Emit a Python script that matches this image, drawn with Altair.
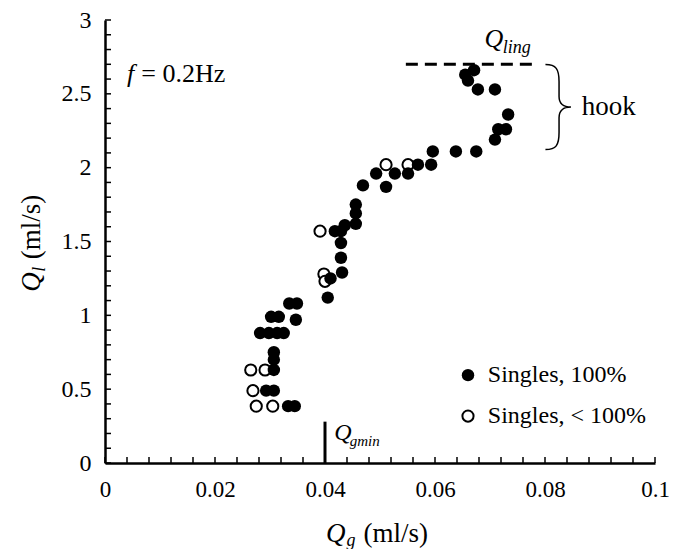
import altair as alt
import pandas as pd

SERIF = "Liberation Serif, Times New Roman, serif"

# ---- data ----
filled_qg = [0.0333, 0.0345, 0.0293, 0.0307, 0.0307, 0.0307, 0.0307, 0.0282, 0.0298, 0.0313,
             0.0325, 0.0302, 0.0316, 0.0347, 0.0335, 0.0349, 0.0405, 0.0410, 0.0431, 0.0429,
             0.0429, 0.0418, 0.0429, 0.0436, 0.0456, 0.0456, 0.0456, 0.0469, 0.0493, 0.0511,
             0.0527, 0.0551, 0.0569, 0.0593, 0.0596, 0.0638, 0.0675, 0.0709, 0.0715, 0.0729,
             0.0733, 0.0660, 0.0671, 0.0678, 0.0709, 0.0655]
filled_ql = [0.385, 0.385, 0.49, 0.49, 0.63, 0.70, 0.75, 0.88, 0.88, 0.88,
             0.88, 0.99, 0.99, 0.97, 1.08, 1.08, 1.12, 1.25, 1.29, 1.39,
             1.49, 1.57, 1.57, 1.61, 1.62, 1.69, 1.75, 1.88, 1.96, 1.87,
             1.96, 1.96, 2.02, 2.02, 2.11, 2.11, 2.11, 2.19, 2.26, 2.26,
             2.36, 2.59, 2.66, 2.53, 2.53, 2.63]
open_qg = [0.0275, 0.0305, 0.0269, 0.0265, 0.0291, 0.0398, 0.0400, 0.0391, 0.0511, 0.0551]
open_ql = [0.385, 0.385, 0.49, 0.63, 0.63, 1.28, 1.23, 1.57, 2.02, 2.02]

x_tick_labels = [0, 0.02, 0.04, 0.06, 0.08, 0.1]
y_tick_labels = [0, 0.5, 1, 1.5, 2, 2.5, 3]
x_minor = [0, 0.004, 0.008, 0.012, 0.016, 0.02, 0.024, 0.028, 0.032, 0.036, 0.04,
           0.044, 0.048, 0.052, 0.056, 0.06, 0.064, 0.068, 0.072, 0.076, 0.08,
           0.084, 0.088, 0.092, 0.096, 0.1]
y_minor = [0, 0.1, 0.2, 0.3, 0.4, 0.5, 0.6, 0.7, 0.8, 0.9, 1.0, 1.1, 1.2, 1.3, 1.4,
           1.5, 1.6, 1.7, 1.8, 1.9, 2.0, 2.1, 2.2, 2.3, 2.4, 2.5, 2.6, 2.7, 2.8, 2.9, 3.0]

q_ling = 2.70
q_gmin = 0.04

W, H = 550, 443

xs = alt.Scale(domain=[0, 0.1], nice=False, zero=False)
ys = alt.Scale(domain=[0, 3], nice=False, zero=False)

df_f = pd.DataFrame({"qg": filled_qg, "ql": filled_ql})
df_o = pd.DataFrame({"qg": open_qg, "ql": open_ql})

x_axis = alt.Axis(values=x_tick_labels, labelExpr="format(datum.value, '~g')", ticks=False,
                  grid=False, domainWidth=2.5, domainColor="black", labelFont=SERIF,
                  labelFontSize=23, labelColor="black", labelPadding=15, labelFlush=False,
                  title=None)
y_axis = alt.Axis(values=y_tick_labels, labelExpr="format(datum.value, '~g')", ticks=False,
                  grid=False, domainWidth=2.5, domainColor="black", labelFont=SERIF,
                  labelFontSize=24, labelColor="black", labelPadding=14, labelFlush=False,
                  title=None)

open_layer = alt.Chart(df_o).mark_point(shape="circle", filled=True, fill="white", stroke="black",
                                        strokeWidth=2, size=125, opacity=1).encode(
    x=alt.X("qg:Q", scale=xs, axis=x_axis),
    y=alt.Y("ql:Q", scale=ys, axis=y_axis),
)
filled_layer = alt.Chart(df_f).mark_circle(size=155, color="black", opacity=1).encode(
    x=alt.X("qg:Q", title=None), y=alt.Y("ql:Q", title=None))

xt = alt.Chart(pd.DataFrame({"v": x_minor})).mark_rule(color="black", strokeWidth=1.5).encode(
    x=alt.X("v:Q", title=None), y=alt.value(H), y2=alt.value(H - 6))
yt = alt.Chart(pd.DataFrame({"v": y_minor})).mark_rule(color="black", strokeWidth=1.5).encode(
    y=alt.Y("v:Q", title=None), x=alt.value(0), x2=alt.value(6))

gmin_line = alt.Chart(pd.DataFrame({"x": [q_gmin], "y": [0], "y2": [0.28]})).mark_rule(
    color="black", strokeWidth=3).encode(x=alt.X("x:Q", title=None), y=alt.Y("y:Q", title=None), y2="y2:Q")
ling_line = alt.Chart(pd.DataFrame({"x": [0.0547], "x2": [0.0787], "y": [q_ling]})).mark_rule(
    color="black", strokeWidth=3, strokeDash=[12, 7]).encode(
    x=alt.X("x:Q", title=None), x2="x2:Q", y=alt.Y("y:Q", title=None))

brace_path = ("M-0.3,-1 C-0.05,-1 0.02,-0.9 0.02,-0.6 L0.02,-0.25 C0.02,-0.08 0.12,0 0.3,0 "
              "C0.12,0 0.02,0.08 0.02,0.25 L0.02,0.6 C0.02,0.9 -0.05,1 -0.3,1")
brace = alt.Chart(pd.DataFrame({"x": [0.0824], "y": [2.41]})).mark_point(
    shape=brace_path, filled=False, stroke="black", strokeWidth=1.5, size=7225, opacity=1).encode(
    x=alt.X("x:Q", title=None), y=alt.Y("y:Q", title=None))


def txt(s, x, y, size, italic=False, align="left", angle=0):
    return alt.Chart(pd.DataFrame({"x": [x], "y": [y], "t": [s]})).mark_text(
        font=SERIF, fontSize=size, fontStyle="italic" if italic else "normal",
        align=align, baseline="middle", angle=angle, color="black").encode(
        x=alt.X("x:Q", title=None), y=alt.Y("y:Q", title=None), text="t:N")


leg_f = alt.Chart(pd.DataFrame({"x": [0.0660], "y": [0.595]})).mark_circle(
    size=155, color="black", opacity=1).encode(x=alt.X("x:Q", title=None), y=alt.Y("y:Q", title=None))
leg_o = alt.Chart(pd.DataFrame({"x": [0.0660], "y": [0.318]})).mark_point(
    shape="circle", filled=True, fill="white", stroke="black", strokeWidth=2, size=125, opacity=1).encode(
    x=alt.X("x:Q", title=None), y=alt.Y("y:Q", title=None))

texts = [
    txt("Singles, 100%", 0.0696, 0.595, 24),
    txt("Singles, < 100%", 0.0696, 0.318, 24),
    txt("hook", 0.0867, 2.41, 27),
    txt("Q", 0.0690, 2.87, 26, italic=True),
    txt("ling", 0.0723, 2.81, 18, italic=True),
    txt("Q", 0.0417, 0.20, 24, italic=True),
    txt("gmin", 0.0445, 0.15, 15, italic=True),
    txt("f", 0.0040, 2.635, 26, italic=True),
    txt("= 0.2Hz", 0.0066, 2.635, 26),
    txt("Q", 0.0402, -0.48, 27, italic=True),
    txt("g", 0.0439, -0.53, 18, italic=True),
    txt("(ml/s)", 0.0470, -0.48, 27),
    txt("Q", -0.0132, 1.16, 27, italic=True, angle=270),
    txt("l", -0.0118, 1.295, 18, italic=True, angle=270),
    txt("(ml/s)", -0.0132, 1.38, 27, angle=270),
]

chart = alt.layer(open_layer, filled_layer, xt, yt, gmin_line, ling_line, brace, leg_o, leg_f, *texts).properties(
    width=W, height=H,
    autosize=alt.AutoSizeParams(type="none"),
    padding={"left": 97, "top": 12, "right": 14, "bottom": 86},
).configure_view(stroke=None).configure_axis(grid=False)

chart.save("out.html", embed_options={"renderer": "svg", "actions": False})
